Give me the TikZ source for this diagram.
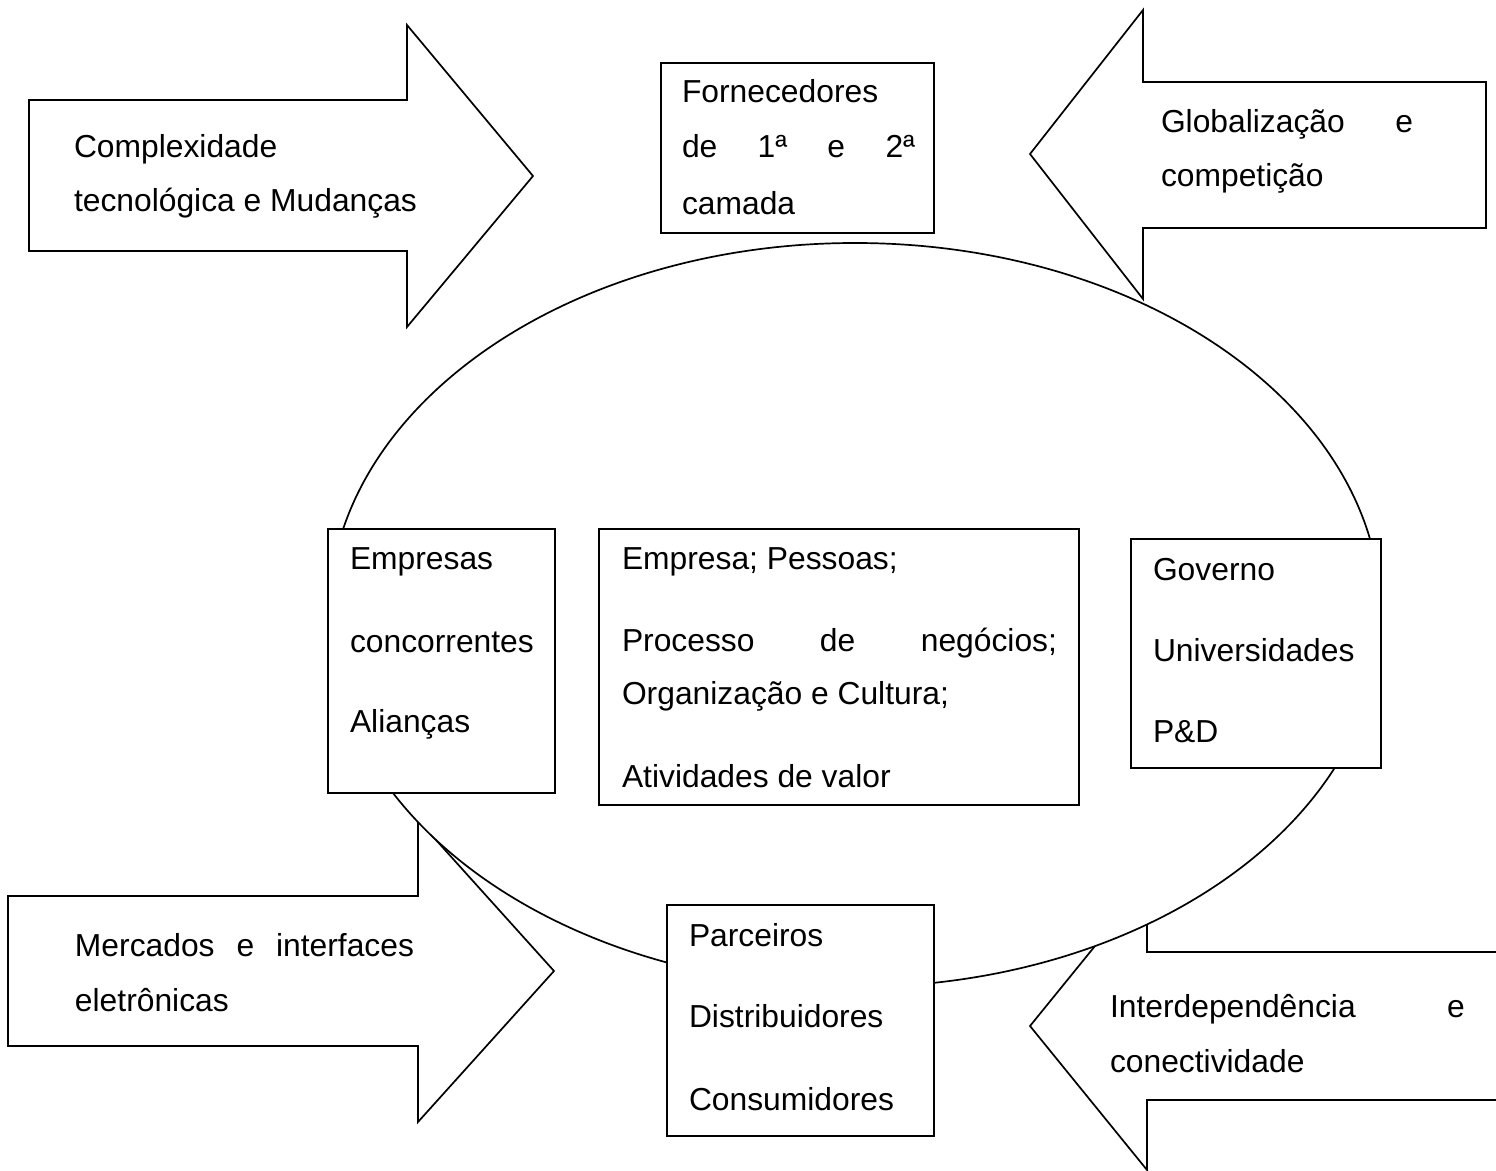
\documentclass[tikz,border=0pt]{standalone}
\usepackage{fontspec}
\setmainfont{Liberation Sans}
\usetikzlibrary{shapes.geometric}
\tikzset{
  shp/.style={draw=black, fill=white, line width=0.85pt, line join=miter},
  box/.style={shp, rectangle, inner sep=0pt, outer sep=0pt},
  txt/.style={anchor=base west, inner sep=0pt, outer sep=0pt},
}
\begin{document}
\begin{tikzpicture}[x=0.5pt,y=-0.5pt,font=\fontsize{15.9}{19}\selectfont]
\useasboundingbox[fill=white] (0,0) rectangle (1496,1171);

% bottom arrows (partly hidden by the ellipse)
\path[shp] (8,896) -- (418,896) -- (418,820) -- (554,971) -- (418,1122) -- (418,1046) -- (8,1046) -- cycle;
\path[shp] (1496,952) -- (1147,952) -- (1147,882) -- (1030,1026) -- (1147,1170) -- (1147,1100) -- (1496,1100);

% ellipse
\node[shp, ellipse, minimum width=526pt, minimum height=372pt, inner sep=0pt, outer sep=0pt] (eco) at (855,615) {};

% top arrows
\path[shp] (29,100) -- (407,100) -- (407,25) -- (533,176) -- (407,327) -- (407,251) -- (29,251) -- cycle;
\path[shp] (1486,82) -- (1143,82) -- (1143,10) -- (1030,154) -- (1143,299) -- (1143,228) -- (1486,228) -- cycle;

% boxes
\node[box, minimum width=136.5pt, minimum height=85pt] (forn) at (797.5,148) {};
\node[box, minimum width=113.5pt, minimum height=132pt] (empr) at (441.5,661) {};
\node[box, minimum width=240pt, minimum height=138pt] (cent) at (839,667) {};
\node[box, minimum width=125pt, minimum height=114.5pt] (gov) at (1256,653.5) {};
\node[box, minimum width=133.5pt, minimum height=115.5pt] (parc) at (800.5,1020.5) {};

% arrow texts
\node[txt] (tla) at (74,158) {Complexidade};
\node[txt] (tlb) at (74,212) {tecnológica e Mudanças};
\node[txt] (tra) at (1161,133) {\makebox[126pt]{Globalização\hfill e}};
\node[txt] (trb) at (1161,187) {competição};
\node[txt] (bla) at (75,957) {\makebox[169.5pt]{Mercados\hfill e\hfill interfaces}};
\node[txt] (blb) at (75,1011) {eletrônicas};
\node[txt] (bra) at (1110,1017) {\makebox[177.5pt]{Interdependência\hfill e}};
\node[txt] (brb) at (1110,1072) {conectividade};

% box texts
\node[txt] (fa) at (682,103) {Fornecedores};
\node[txt] (fb) at (682,158) {\makebox[116.5pt]{de\hfill 1ª\hfill e\hfill 2ª}};
\node[txt] (fc) at (682,215) {camada};

\node[txt] (ea) at (350,570) {Empresas};
\node[txt] (eb) at (350,653) {concorrentes};
\node[txt] (ec) at (350,733) {Alianças};

\node[txt] (ca) at (622,570) {Empresa; Pessoas;};
\node[txt] (cb) at (622,652) {\makebox[217.5pt]{Processo\hfill de\hfill negócios;}};
\node[txt] (cc) at (622,705) {Organização e Cultura;};
\node[txt] (cd) at (622,788) {Atividades de valor};

\node[txt] (ga) at (1153,581) {Governo};
\node[txt] (gb) at (1153,662) {Universidades};
\node[txt] (gc) at (1153,743) {P\&D};

\node[txt] (pa) at (689,946) {Parceiros};
\node[txt] (pb) at (689,1027) {Distribuidores};
\node[txt] (pc) at (689,1110) {Consumidores};
\end{tikzpicture}
\end{document}
